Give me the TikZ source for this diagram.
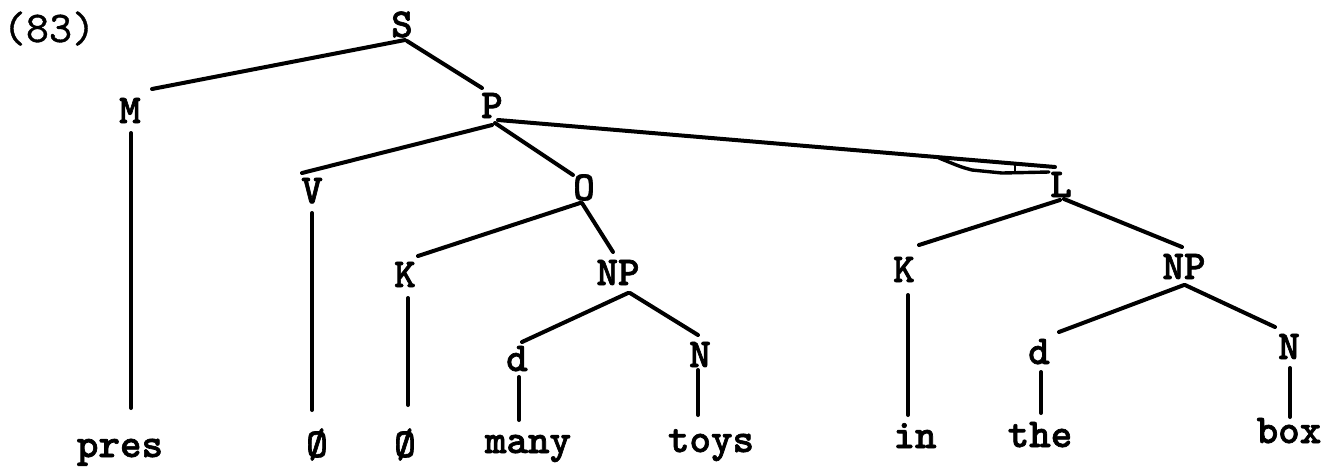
\documentclass[tikz,border=0pt]{standalone}
\usepackage{fontspec}
\newfontfamily\twb{lmmonolt10-bold.otf}[FakeBold=1.6]
\newfontfamily\twr{lmmono10-regular.otf}[FakeBold=0.8]
\tikzset{
  lbl/.style={inner sep=0pt, anchor=base, font=\twb\fontsize{20.5}{20.5}\selectfont},
  br/.style={line width=2pt, line cap=round, line join=round},
}
\newcommand{\rel}[3]{([shift={(#2,#3)}]#1.base)}
\begin{document}
\begin{tikzpicture}[x=0.5pt,y=-0.5pt]
\useasboundingbox (0,0) rectangle (1330,468);
% labels
\node[lbl, font=\twr\fontsize{22}{22}\selectfont] (lab83) at (49,42) {(83)};
\node[lbl] (S)   at (402,37) {S};
\node[lbl] (M)   at (130,123) {M};
\node[lbl] (P)   at (492,118) {P};
\node[lbl] (V)   at (312,203) {V};
\node[lbl] (O)   at (584,200) {O};
\node[lbl] (L)   at (1061,197) {L};
\node[lbl] (K1)  at (405,287) {K};
\node[lbl] (NP1) at (618,285) {NP};
\node[lbl] (K2)  at (904,282) {K};
\node[lbl] (NP2) at (1184,279) {NP};
\node[lbl] (d1)  at (517,371) {d};
\node[lbl] (N1)  at (700,367) {N};
\node[lbl] (d2)  at (1039,364) {d};
\node[lbl] (N2)  at (1289,359) {N};
\node[lbl] (pres) at (120,457) {pres};
\node[lbl] (z1)   at (317,457) {Ø};
\node[lbl] (z2)   at (405,457) {Ø};
\node[lbl] (many) at (528,453) {many};
\node[lbl] (toys) at (711,452) {toys};
\node[lbl] (in)   at (915,448) {in};
\node[lbl] (the)  at (1040,447) {the};
\node[lbl] (box)  at (1289,443) {box};
% branches
\draw[br] \rel{S}{3}{3} -- \rel{M}{22}{-34};
\draw[br] \rel{S}{5}{4} -- \rel{P}{-10}{-30};
\draw[br] \rel{M}{1}{10} -- \rel{pres}{11}{-49};
\draw[br] \rel{P}{0}{7} -- \rel{V}{-10}{-30};
\draw[br] \rel{P}{3}{5} -- \rel{O}{-11}{-25};
\draw[br] \rel{P}{6}{2} -- \rel{L}{-6}{-30};
\draw[line width=1.7pt, line cap=round, line join=round]
  \rel{L}{-122}{-39} .. controls \rel{L}{-100}{-30} .. \rel{L}{-89}{-27}
  -- \rel{L}{-59}{-24} -- \rel{L}{-12}{-25};
\draw[line width=1.2pt] \rel{L}{-46}{-33} -- \rel{L}{-46}{-24};
\draw[br] \rel{V}{0}{10} -- \rel{z1}{-5}{-47};
\draw[br] \rel{O}{-4}{3} -- \rel{K1}{13}{-31};
\draw[br] \rel{O}{-2}{3} -- \rel{NP1}{-5}{-33};
\draw[br] \rel{K1}{3}{11} -- \rel{z2}{3}{-52};
\draw[br] \rel{NP1}{10}{8} -- \rel{d1}{5}{-29};
\draw[br] \rel{NP1}{12}{8} -- \rel{N1}{-2}{-32};
\draw[br] \rel{d1}{2}{6} -- \rel{many}{-9}{-33};
\draw[br] \rel{N1}{-2}{3} -- \rel{toys}{-13}{-37};
\draw[br] \rel{L}{-1}{3} -- \rel{K2}{15}{-37};
\draw[br] \rel{L}{3}{2} -- \rel{NP2}{-2}{-32};
\draw[br] \rel{K2}{4}{13} -- \rel{in}{-7}{-33};
\draw[br] \rel{NP2}{0}{6} -- \rel{d2}{20}{-32};
\draw[br] \rel{NP2}{1}{6} -- \rel{N2}{-14}{-32};
\draw[br] \rel{d2}{2}{8} -- \rel{the}{1}{-34};
\draw[br] \rel{N2}{1}{9} -- \rel{box}{1}{-26};
\end{tikzpicture}
\end{document}
